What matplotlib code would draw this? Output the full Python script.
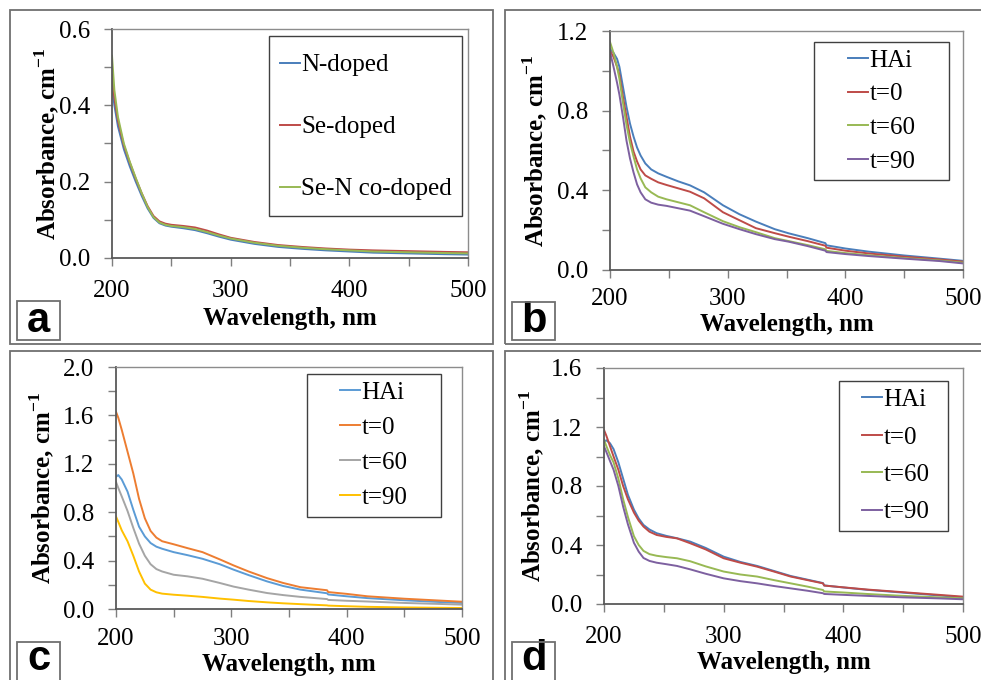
import matplotlib
matplotlib.use('Agg')
import matplotlib.pyplot as plt
from matplotlib.patches import Rectangle
from matplotlib.ticker import MultipleLocator, FuncFormatter

# ---- data ----
wl_a = [200, 202, 205, 210, 215, 220, 225, 230, 235, 240, 245, 250, 260, 270,
        280, 290, 300, 320, 340, 360, 380, 400, 420, 450, 480, 500]
n_doped = [0.45, 0.40, 0.345, 0.285, 0.24, 0.2, 0.163, 0.13, 0.105, 0.091, 0.085, 0.082, 0.078,
           0.073, 0.065, 0.056, 0.048, 0.037, 0.029, 0.024, 0.020, 0.017, 0.014, 0.012, 0.010, 0.009]
se_doped = [0.48, 0.42, 0.36, 0.295, 0.25, 0.208, 0.17, 0.136, 0.11, 0.096, 0.09, 0.087, 0.084,
            0.080, 0.072, 0.062, 0.053, 0.042, 0.034, 0.029, 0.025, 0.022, 0.020, 0.018, 0.016, 0.015]
sen_codoped = [0.53, 0.44, 0.37, 0.30, 0.252, 0.21, 0.17, 0.134, 0.107, 0.093, 0.087, 0.084, 0.081,
               0.076, 0.068, 0.059, 0.051, 0.040, 0.032, 0.027, 0.023, 0.020, 0.017, 0.015, 0.013, 0.012]

wl_b = [200, 203, 206, 208, 211, 214, 217, 220, 223, 226, 230, 235, 241, 248, 258, 268,
        280, 296, 310, 324, 340, 352, 368, 383, 384, 400, 420, 450, 480, 500]
hai_b = [1.11, 1.09, 1.06, 1.02, 0.92, 0.82, 0.735, 0.67, 0.615, 0.575, 0.535, 0.505, 0.485, 0.468,
         0.445, 0.425, 0.39, 0.325, 0.28, 0.243, 0.205, 0.184, 0.16, 0.135, 0.124, 0.108, 0.092,
         0.073, 0.057, 0.046]
t0_b = [1.10, 1.07, 1.02, 0.98, 0.87, 0.77, 0.67, 0.595, 0.545, 0.505, 0.475, 0.458, 0.44, 0.427,
        0.41, 0.393, 0.36, 0.29, 0.25, 0.21, 0.185, 0.167, 0.145, 0.122, 0.112, 0.097, 0.083,
        0.067, 0.053, 0.042]
t60_b = [1.145, 1.09, 1.02, 0.96, 0.84, 0.73, 0.64, 0.57, 0.505, 0.46, 0.415, 0.39, 0.368, 0.355,
         0.34, 0.325, 0.29, 0.245, 0.215, 0.19, 0.16, 0.145, 0.125, 0.104, 0.096, 0.085, 0.074,
         0.06, 0.048, 0.037]
t90_b = [1.095, 1.02, 0.94, 0.88, 0.77, 0.65, 0.56, 0.49, 0.43, 0.39, 0.355, 0.338, 0.328, 0.322,
         0.31, 0.298, 0.27, 0.232, 0.205, 0.18, 0.155, 0.142, 0.12, 0.097, 0.09, 0.08, 0.07,
         0.057, 0.045, 0.033]

wl_c = [200, 202, 205, 210, 215, 220, 225, 230, 235, 240, 250, 262, 275, 290,
        302, 315, 331, 345, 360, 383, 384, 400, 418, 450, 480, 500]
hai_c = [1.093, 1.107, 1.07, 0.97, 0.82, 0.68, 0.60, 0.545, 0.515, 0.498, 0.47, 0.445, 0.415, 0.37,
         0.325, 0.28, 0.228, 0.19, 0.16, 0.13, 0.12, 0.105, 0.09, 0.072, 0.058, 0.05]
t0_c = [1.63, 1.58, 1.48, 1.30, 1.12, 0.91, 0.75, 0.645, 0.59, 0.56, 0.535, 0.503, 0.47, 0.41,
        0.36, 0.31, 0.255, 0.215, 0.18, 0.155, 0.14, 0.125, 0.105, 0.085, 0.07, 0.06]
t60_c = [1.05, 1.0, 0.93, 0.81, 0.67, 0.54, 0.44, 0.37, 0.33, 0.31, 0.283, 0.27, 0.25, 0.215,
         0.185, 0.16, 0.132, 0.115, 0.10, 0.082, 0.075, 0.068, 0.062, 0.05, 0.042, 0.036]
t90_c = [0.764, 0.72, 0.65, 0.56, 0.44, 0.31, 0.21, 0.16, 0.138, 0.127, 0.118, 0.11, 0.10, 0.086,
         0.077, 0.066, 0.055, 0.047, 0.04, 0.03, 0.028, 0.023, 0.018, 0.013, 0.01, 0.008]

wl_d = [200, 202, 205, 208, 212, 216, 220, 225, 229, 233, 238, 244, 252, 261, 272, 285,
        300, 314, 328, 342, 356, 370, 383, 384, 400, 420, 450, 480, 500]
hai_d = [1.10, 1.11, 1.09, 1.05, 0.96, 0.85, 0.74, 0.64, 0.58, 0.536, 0.505, 0.48, 0.462, 0.446,
         0.423, 0.38, 0.321, 0.285, 0.258, 0.224, 0.19, 0.165, 0.142, 0.126, 0.112, 0.096, 0.077,
         0.058, 0.045]
t0_d = [1.18, 1.14, 1.07, 1.0, 0.91, 0.80, 0.71, 0.62, 0.565, 0.525, 0.49, 0.468, 0.455, 0.445,
        0.412, 0.37, 0.31, 0.28, 0.253, 0.22, 0.186, 0.162, 0.14, 0.125, 0.113, 0.098, 0.08,
        0.062, 0.05]
t60_d = [1.113, 1.07, 1.01, 0.96, 0.85, 0.71, 0.59, 0.46, 0.40, 0.36, 0.338, 0.327, 0.318, 0.31,
         0.29, 0.255, 0.22, 0.2, 0.186, 0.162, 0.14, 0.118, 0.095, 0.085, 0.078, 0.068, 0.055,
         0.045, 0.038]
t90_d = [1.068, 1.03, 0.97, 0.91, 0.80, 0.66, 0.54, 0.415, 0.355, 0.312, 0.292, 0.28, 0.27, 0.258,
         0.235, 0.205, 0.174, 0.155, 0.14, 0.122, 0.106, 0.09, 0.073, 0.068, 0.062, 0.055, 0.045,
         0.038, 0.032]

labels_a = ['N-doped', 'Se-doped', 'Se-N co-doped']
labels_t = ['HAi', 't=0', 't=60', 't=90']
colors_2007 = ['#4a7ebb', '#be4b48', '#98b954', '#7d60a0']
colors_2013 = ['#5b9bd5', '#ed7d31', '#a5a5a5', '#ffc000']

W, H = 981, 680
plt.rcParams['font.family'] = ['Liberation Serif', 'DejaVu Serif']
plt.rcParams['mathtext.fontset'] = 'custom'
plt.rcParams['mathtext.rm'] = 'Liberation Serif'
plt.rcParams['mathtext.bf'] = 'Liberation Serif:bold'
fig = plt.figure(figsize=(W / 100, H / 100), dpi=100)


def px_rect(x0, y0, x1, y1):
    # image pixel box (top-left origin) -> figure fraction rect
    return [x0 / W, 1 - y1 / H, (x1 - x0) / W, (y1 - y0) / H]


def frame(x0, y0, x1, y1, ec='#6f6f6f', lw=1.3):
    r = px_rect(x0, y0, x1, y1)
    fig.patches.append(Rectangle((r[0], r[1]), r[2], r[3], transform=fig.transFigure,
                                 fill=False, ec=ec, lw=lw, zorder=5))


# panel frames
for b in [(10, 10, 493, 344), (505, 10, 990, 344), (10, 351, 493, 690), (505, 351, 990, 690)]:
    frame(*b)


def panel(box, wl, series, labels, colors, ymax, ymaj, ylab_step, leg_box, leg_x,
          leg_yc, leg_space, xlab_off, ylab_off, letter, letter_box, xpad=10):
    ax = fig.add_axes(px_rect(*box))
    for vals, lab, c in zip(series, labels, colors):
        ax.plot(wl, vals, color=c, lw=1.4, label=lab)
    ax.set_xlim(200, 500)
    ax.set_ylim(0, ymax)
    ax.xaxis.set_major_locator(MultipleLocator(50))
    ax.xaxis.set_major_formatter(FuncFormatter(lambda v, p: '%d' % v if v % 100 == 0 else ''))
    ax.yaxis.set_major_locator(MultipleLocator(ymaj))
    ax.yaxis.set_major_formatter(FuncFormatter(
        lambda v, p: '%.1f' % v if abs(round(v / ylab_step) - v / ylab_step) < 1e-6 else ''))
    ax.tick_params(direction='out', length=6, width=1, color='#7f7f7f',
                   labelsize=18, pad=10)
    ax.tick_params(axis='x', pad=xpad)
    for s in ['left', 'bottom']:
        ax.spines[s].set_color('#595959')
        ax.spines[s].set_linewidth(1.3)
    for s in ['top', 'right']:
        ax.spines[s].set_color('#8c8c8c')
        ax.spines[s].set_linewidth(1.0)
    ax.set_xlabel('Wavelength, nm', fontsize=18, fontweight='bold')
    ax.set_ylabel('Absorbance, cm$^{\\mathbf{-1}}$', fontsize=18, fontweight='bold')
    hpx = box[3] - box[1]
    wpx = box[2] - box[0]
    ax.xaxis.set_label_coords(0.5, -xlab_off / hpx)
    ax.xaxis.label.set_va('center')
    ax.yaxis.set_label_coords(-ylab_off / wpx, 0.5)
    ax.yaxis.label.set_va('center')
    # legend: entries without frame, box drawn separately (Excel style padding)
    ax.legend(loc='center left', bbox_to_anchor=((leg_x - box[0]) / wpx, (box[3] - leg_yc) / hpx),
              borderaxespad=0, borderpad=0, fontsize=18, handlelength=0.8,
              handletextpad=0.05, labelspacing=leg_space, frameon=False)
    frame(*leg_box, ec='#404040', lw=1.0)
    # panel letter in a small box
    frame(*letter_box)
    r = px_rect(*letter_box)
    fig.text(r[0] + r[2] / 2, 1 - 321 / H if letter_box[1] < 340 else 1 - 659 / H, letter,
             family='Liberation Sans', fontweight='bold', fontsize=30, ha='center', va='center')
    return ax


panel((112, 29, 468, 258), wl_a, [n_doped, se_doped, sen_codoped], labels_a, colors_2007[:3],
      0.6, 0.1, 0.2, (269, 36, 462, 216), 280, 127, 1.58, 61, 65, 'a', (17, 301, 60, 340))
panel((610, 31, 963, 270), wl_b, [hai_b, t0_b, t60_b, t90_b], labels_t, colors_2007,
      1.2, 0.2, 0.4, (814, 42, 949, 180), 848, 111, 0.45, 55, 75, 'b', (512, 302, 555, 340),
      xpad=7)
panel((116, 367, 462, 609), wl_c, [hai_c, t0_c, t60_c, t90_c], labels_t, colors_2013,
      2.0, 0.2, 0.4, (307, 374, 441, 517), 340, 445, 0.5, 55, 74, 'c', (17, 642, 60, 685),
      xpad=8)
panel((604, 368, 963, 604), wl_d, [hai_d, t0_d, t60_d, t90_d], labels_t, colors_2007,
      1.6, 0.2, 0.4, (839, 381, 948, 531), 862, 456, 0.6, 59, 72, 'd', (512, 642, 555, 685))

fig.savefig('out.png', dpi=100)
